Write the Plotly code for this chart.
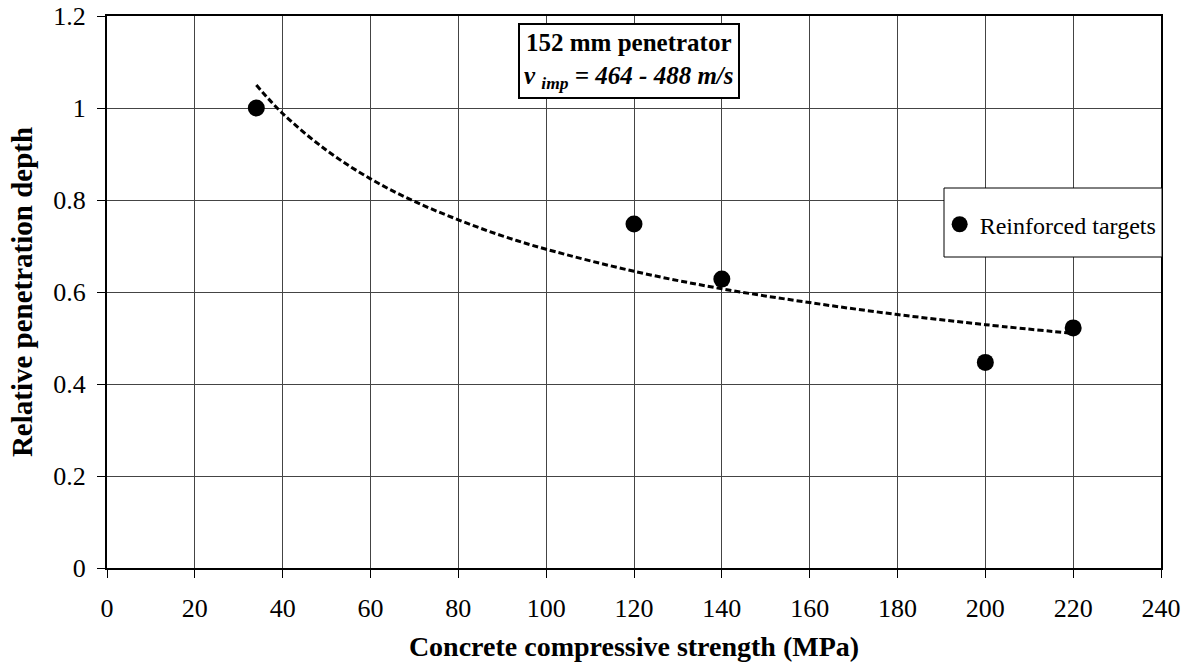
import plotly.graph_objects as go

# Measured data
strength = [34, 120, 140, 200, 220]
rel_depth = [1.0, 0.748, 0.628, 0.447, 0.522]

# Trend line (power fit)
trend_x = [34, 40, 50, 60, 70, 80, 90, 100, 120, 140, 160, 180, 200, 220]
trend_y = [1.05, 0.988, 0.908, 0.846, 0.797, 0.757, 0.722, 0.693, 0.645, 0.607, 0.577, 0.551, 0.529, 0.510]

x_ticks = [0, 20, 40, 60, 80, 100, 120, 140, 160, 180, 200, 220, 240]
y_ticks = [0, 0.2, 0.4, 0.6, 0.8, 1.0, 1.2]
y_tick_text = ["0", "0.2", "0.4", "0.6", "0.8", "1", "1.2"]

FONT = "Liberation Serif"

fig = go.Figure()
fig.add_trace(go.Scatter(
    x=trend_x, y=trend_y, mode="lines", line_shape="spline",
    line=dict(color="black", width=3, dash="6px,3px"),
    showlegend=False, hoverinfo="skip"))
fig.add_trace(go.Scatter(
    x=strength, y=rel_depth, mode="markers", name="Reinforced targets",
    marker=dict(color="black", size=17, line=dict(width=0))))

fig.update_layout(
    width=1194, height=671,
    margin=dict(l=107, r=33, t=16, b=103, autoexpand=False),
    paper_bgcolor="white", plot_bgcolor="white",
    font=dict(family=FONT, size=26, color="black"),
    showlegend=True,
    legend=dict(x=0.790, y=0.622, xanchor="left", yanchor="middle",
                bgcolor="rgba(0,0,0,0)", borderwidth=0,
                font=dict(family=FONT, size=24, color="black"),
                itemwidth=30),
    xaxis=dict(range=[0, 240], tickvals=x_ticks, showgrid=True,
               gridcolor="#444444", gridwidth=1, showline=True,
               linecolor="black", linewidth=2, mirror=True,
               ticks="outside", ticklen=8, tickcolor="black", zeroline=False,
               ticklabelstandoff=8, automargin=False,
               tickfont=dict(family=FONT, size=26, color="black"),
               title=dict(text="<b>Concrete compressive strength (MPa)</b>",
                          font=dict(family=FONT, size=28, color="black"), standoff=14)),
    yaxis=dict(range=[0, 1.2], tickvals=y_ticks, ticktext=y_tick_text,
               showgrid=True, gridcolor="#444444", gridwidth=1,
               showline=True, linecolor="black", linewidth=2, mirror=True,
               ticks="outside", ticklen=8, tickcolor="black", zeroline=False,
               ticklabelstandoff=6, automargin=False,
               tickfont=dict(family=FONT, size=26, color="black"),
               title=dict(text="<b>Relative penetration depth</b>",
                          font=dict(family=FONT, size=29, color="black"), standoff=12)),
)

# legend box
fig.add_shape(type="rect", xref="paper", yref="paper",
              x0=(944 - 107) / 1054, x1=(1162 - 107) / 1054,
              y0=(568 - 257) / 552, y1=(568 - 188) / 552,
              line=dict(color="black", width=1), fillcolor="white", layer="above")

fig.add_annotation(
    xref="paper", yref="paper", x=(629 - 107) / 1054, y=(568 - 23) / 552,
    xanchor="center", yanchor="top", showarrow=False,
    text="<b>152 mm penetrator</b><br><b><i>v <sub>imp</sub> = 464 - 488 m/s</i></b>",
    font=dict(family=FONT, size=25, color="black"),
    bgcolor="white", bordercolor="black", borderwidth=2, borderpad=4, align="center")

fig.write_html("out.html")
